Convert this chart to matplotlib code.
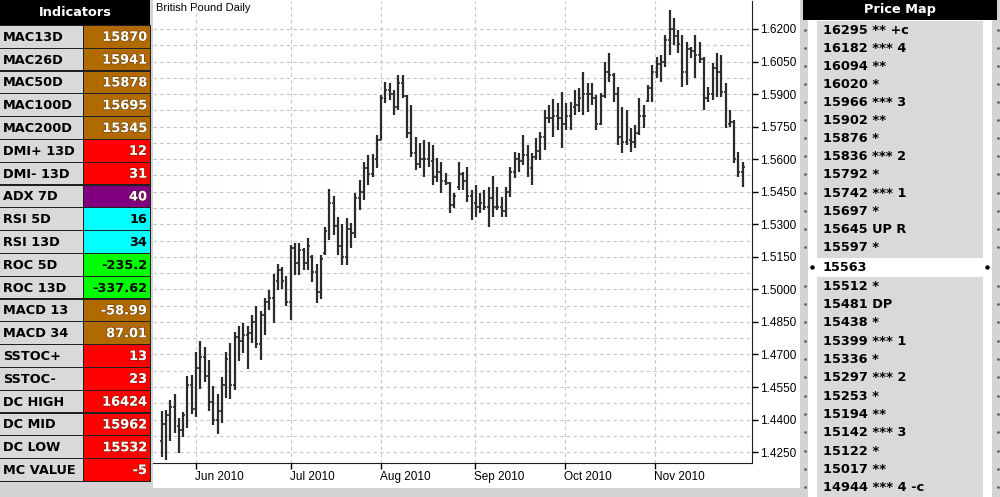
import matplotlib
matplotlib.use('Agg')
import matplotlib.pyplot as plt
from matplotlib.patches import Rectangle
import matplotlib.patheffects as pe
import numpy as np

# ---------------- data ----------------
opens = [1.4300, 1.4380, 1.4420, 1.4460, 1.4370, 1.4350, 1.4420, 1.4560, 1.4450, 1.4640,
         1.4690, 1.4600, 1.4480, 1.4400, 1.4440, 1.4560, 1.4680, 1.4560, 1.4780, 1.4760,
         1.4790, 1.4800, 1.4850, 1.4750, 1.4880, 1.4940, 1.4960, 1.5040, 1.5090, 1.5040,
         1.4940, 1.5190, 1.5120, 1.5180, 1.5120, 1.5150, 1.5080, 1.4990, 1.5170, 1.5270,
         1.5400, 1.5290, 1.5200, 1.5150, 1.5280, 1.5260, 1.5420, 1.5450, 1.5560, 1.5530,
         1.5600, 1.5690, 1.5880, 1.5920, 1.5900, 1.5840, 1.5950, 1.5890, 1.5720, 1.5630,
         1.5580, 1.5600, 1.5600, 1.5590, 1.5520, 1.5540, 1.5500, 1.5490, 1.5390, 1.5470,
         1.5530, 1.5500, 1.5430, 1.5400, 1.5380, 1.5400, 1.5380, 1.5420, 1.5380, 1.5380,
         1.5360, 1.5450, 1.5540, 1.5600, 1.5590, 1.5620, 1.5560, 1.5610, 1.5640, 1.5700,
         1.5790, 1.5790, 1.5800, 1.5790, 1.5760, 1.5800, 1.5840, 1.5850, 1.5880, 1.5900,
         1.5900, 1.5880, 1.5760, 1.5890, 1.6000, 1.5990, 1.5900, 1.5700, 1.5680, 1.5690,
         1.5680, 1.5720, 1.5800, 1.5870, 1.5930, 1.6000, 1.6040, 1.6050, 1.6150, 1.6200,
         1.6170, 1.6130, 1.6000, 1.6110, 1.6100, 1.6080, 1.6060, 1.5880, 1.5900, 1.6020,
         1.6000, 1.5910, 1.5760, 1.5770, 1.5600, 1.5540]
highs = [1.4440, 1.4445, 1.4491, 1.4518, 1.4408, 1.4436, 1.4601, 1.4606, 1.4712, 1.4763,
         1.4735, 1.4675, 1.4555, 1.4518, 1.4597, 1.4712, 1.4753, 1.4804, 1.4832, 1.4846,
         1.4832, 1.4882, 1.4924, 1.4901, 1.4961, 1.4998, 1.5071, 1.5117, 1.5104, 1.5062,
         1.5205, 1.5214, 1.5214, 1.5191, 1.5237, 1.5159, 1.5117, 1.5159, 1.5288, 1.5463,
         1.5431, 1.5334, 1.5302, 1.5330, 1.5306, 1.5445, 1.5505, 1.5587, 1.5620, 1.5624,
         1.5712, 1.5896, 1.5956, 1.5952, 1.5919, 1.5988, 1.5988, 1.5896, 1.5850, 1.5703,
         1.5675, 1.5689, 1.5680, 1.5666, 1.5606, 1.5587, 1.5537, 1.5495, 1.5445, 1.5587,
         1.5541, 1.5564, 1.5458, 1.5481, 1.5445, 1.5458, 1.5472, 1.5523, 1.5472, 1.5426,
         1.5472, 1.5564, 1.5634, 1.5629, 1.5712, 1.5666, 1.5629, 1.5698, 1.5726, 1.5827,
         1.5850, 1.5878, 1.5859, 1.5910, 1.5859, 1.5864, 1.5919, 1.5929, 1.6002, 1.5952,
         1.5952, 1.5896, 1.5906, 1.6048, 1.6090, 1.5998, 1.5933, 1.5841, 1.5827, 1.5744,
         1.5758, 1.5882, 1.5850, 1.5942, 1.6035, 1.6071, 1.6081, 1.6173, 1.6288, 1.6251,
         1.6196, 1.6173, 1.6140, 1.6117, 1.6173, 1.6140, 1.6071, 1.5933, 1.6044, 1.6090,
         1.6081, 1.5952, 1.5827, 1.5781, 1.5634, 1.5587]
lows = [1.4228, 1.4214, 1.4302, 1.4339, 1.4247, 1.4320, 1.4362, 1.4426, 1.4413, 1.4541,
        1.4574, 1.4440, 1.4376, 1.4334, 1.4385, 1.4500, 1.4495, 1.4537, 1.4670, 1.4707,
        1.4634, 1.4753, 1.4730, 1.4675, 1.4790, 1.4906, 1.4846, 1.4998, 1.5002, 1.4924,
        1.4859, 1.5067, 1.5067, 1.5090, 1.5090, 1.5035, 1.4938, 1.4956, 1.5159, 1.5228,
        1.5251, 1.5159, 1.5113, 1.5113, 1.5191, 1.5237, 1.5366, 1.5412, 1.5481, 1.5518,
        1.5560, 1.5689, 1.5859, 1.5873, 1.5804, 1.5827, 1.5882, 1.5698, 1.5611, 1.5551,
        1.5560, 1.5518, 1.5564, 1.5481, 1.5495, 1.5445, 1.5481, 1.5352, 1.5376, 1.5458,
        1.5458, 1.5403, 1.5320, 1.5334, 1.5352, 1.5366, 1.5288, 1.5334, 1.5366, 1.5334,
        1.5334, 1.5426, 1.5514, 1.5541, 1.5574, 1.5518, 1.5481, 1.5597, 1.5597, 1.5643,
        1.5767, 1.5703, 1.5735, 1.5652, 1.5735, 1.5735, 1.5804, 1.5818, 1.5804, 1.5818,
        1.5850, 1.5735, 1.5758, 1.5882, 1.5956, 1.5864, 1.5666, 1.5629, 1.5666, 1.5634,
        1.5652, 1.5712, 1.5744, 1.5864, 1.5864, 1.5975, 1.5956, 1.6025, 1.6081, 1.6127,
        1.6090, 1.5933, 1.5942, 1.6067, 1.5975, 1.6044, 1.5827, 1.5864, 1.5873, 1.5887,
        1.5887, 1.5744, 1.5749, 1.5583, 1.5518, 1.5472]
closes = [1.4380, 1.4420, 1.4460, 1.4370, 1.4350, 1.4420, 1.4560, 1.4450, 1.4640, 1.4690,
          1.4600, 1.4480, 1.4400, 1.4440, 1.4560, 1.4680, 1.4560, 1.4780, 1.4760, 1.4790,
          1.4800, 1.4850, 1.4750, 1.4880, 1.4940, 1.4960, 1.5040, 1.5090, 1.5040, 1.4940,
          1.5190, 1.5120, 1.5180, 1.5120, 1.5200, 1.5080, 1.4990, 1.5140, 1.5270, 1.5400,
          1.5290, 1.5200, 1.5150, 1.5280, 1.5260, 1.5420, 1.5450, 1.5560, 1.5530, 1.5600,
          1.5690, 1.5880, 1.5920, 1.5900, 1.5840, 1.5950, 1.5890, 1.5720, 1.5630, 1.5580,
          1.5600, 1.5600, 1.5590, 1.5520, 1.5540, 1.5500, 1.5490, 1.5390, 1.5430, 1.5530,
          1.5500, 1.5430, 1.5400, 1.5380, 1.5400, 1.5380, 1.5420, 1.5380, 1.5380, 1.5360,
          1.5450, 1.5540, 1.5600, 1.5590, 1.5620, 1.5560, 1.5610, 1.5640, 1.5700, 1.5790,
          1.5790, 1.5800, 1.5790, 1.5760, 1.5800, 1.5840, 1.5850, 1.5880, 1.5900, 1.5900,
          1.5880, 1.5760, 1.5890, 1.6000, 1.5990, 1.5900, 1.5700, 1.5680, 1.5690, 1.5680,
          1.5720, 1.5800, 1.5800, 1.5930, 1.6000, 1.6040, 1.6050, 1.6150, 1.6200, 1.6170,
          1.6130, 1.6000, 1.6110, 1.6100, 1.6080, 1.6060, 1.5880, 1.5900, 1.6020, 1.6000,
          1.5910, 1.5760, 1.5770, 1.5600, 1.5540, 1.5563]

month_labels = ['Jun 2010', 'Jul 2010', 'Aug 2010', 'Sep 2010', 'Oct 2010', 'Nov 2010']
month_pos = [8.0, 30.0, 51.0, 72.8, 93.7, 114.6]   # trading-day index of month start
price_ticks = [1.4250, 1.4400, 1.4550, 1.4700, 1.4850, 1.5000, 1.5150,
               1.5300, 1.5450, 1.5600, 1.5750, 1.5900, 1.6050, 1.6200]
chart_title = 'British Pound Daily'

ind_labels = ['MAC13D', 'MAC26D', 'MAC50D', 'MAC100D', 'MAC200D', 'DMI+ 13D', 'DMI- 13D',
              'ADX 7D', 'RSI 5D', 'RSI 13D', 'ROC 5D', 'ROC 13D', 'MACD 13', 'MACD 34',
              'SSTOC+', 'SSTOC-', 'DC HIGH', 'DC MID', 'DC LOW', 'MC VALUE']
ind_values = ['15870', '15941', '15878', '15695', '15345', '12', '31', '40', '16', '34',
              '-235.2', '-337.62', '-58.99', '87.01', '13', '23', '16424', '15962', '15532', '-5']
ind_kinds = ['ma', 'ma', 'ma', 'ma', 'ma', 'red', 'red', 'purple', 'cyan', 'cyan',
             'green', 'green', 'ma', 'ma', 'red', 'red', 'red', 'red', 'red', 'red']

pm_above_levels = ['16295', '16182', '16094', '16020', '15966', '15902', '15876',
                   '15836', '15792', '15742', '15697', '15645', '15597']
pm_above_notes = ['** +c', '*** 4', '**', '*', '*** 3', '**', '*',
                  '*** 2', '*', '*** 1', '*', 'UP R', '*']
pm_current = '15563'
pm_below_levels = ['15512', '15481', '15438', '15399', '15336', '15297',
                   '15253', '15194', '15142', '15122', '15017', '14944']
pm_below_notes = ['*', 'DP', '*', '*** 1', '*', '*** 2',
                  '*', '**', '*** 3', '*', '**', '*** 4 -c']

# ---------------- styles ----------------
kind_bg = {'ma': '#B06A00', 'red': '#FF0000', 'purple': '#800080',
           'cyan': '#00FFFF', 'green': '#00FF00'}
kind_fg = {'ma': 'white', 'red': 'white', 'purple': 'white',
           'cyan': 'black', 'green': 'black'}
PANEL_GRAY = '#D4D4D4'
CELL_GRAY = '#D9D9D9'
BOLD = dict(family='DejaVu Sans', fontweight='bold', fontsize=9.3)

W, H = 1000, 497
fig = plt.figure(figsize=(W / 100, H / 100), dpi=100)
fig.patch.set_facecolor(PANEL_GRAY)

bg = fig.add_axes([0, 0, 1, 1])
bg.set_xlim(0, W)
bg.set_ylim(H, 0)
bg.axis('off')
bg.set_zorder(0)

# chart white panel
bg.add_patch(Rectangle((153, 0), 647, 488, color='white', lw=0))
bg.text(156, 8, chart_title, fontsize=8, family='Liberation Sans', va='center', ha='left')

# ---------------- Indicators panel ----------------
bg.add_patch(Rectangle((0, 0), 150, 25, color='black', lw=0))
bg.text(75, 13, 'Indicators', color='white', ha='center', va='center', **BOLD)
row_top0, pitch = 26.0, 22.8
bg.add_patch(Rectangle((0, row_top0 - 1), 151, pitch * len(ind_labels) + 1,
                       color='#202020', lw=0))
for i, (lab, val, kind) in enumerate(zip(ind_labels, ind_values, ind_kinds)):
    top = row_top0 + i * pitch
    h = pitch - 1.2
    bg.add_patch(Rectangle((0, top), 82.5, h, color=CELL_GRAY, lw=0))
    bg.add_patch(Rectangle((84, top), 65.5, h, color=kind_bg[kind], lw=0))
    cy = top + h / 2 + 0.5
    bg.text(3, cy, lab, color='black', ha='left', va='center', **BOLD)
    t = bg.text(147, cy, val, color=kind_fg[kind], ha='right', va='center', **BOLD)
    if kind_fg[kind] == 'white':
        t.set_path_effects([pe.withStroke(linewidth=1.0, foreground='#40200080')])

# ---------------- Price Map panel ----------------
bg.add_patch(Rectangle((803, 0), 194, 20, color='black', lw=0))
bg.text(900, 10, 'Price Map', color='white', ha='center', va='center', **BOLD)
bg.add_patch(Rectangle((808, 20), 184, H - 20, color='white', lw=0))
cur_y = 30 + 18.06 * 12 + 20.6
bg.add_patch(Rectangle((817, 21), 166, cur_y - 9.5 - 21, color=CELL_GRAY, lw=0))
bg.add_patch(Rectangle((817, cur_y + 9.5), 166, H - cur_y - 9.5, color=CELL_GRAY, lw=0))

pm_rows = []
for i, (lv, nt) in enumerate(zip(pm_above_levels, pm_above_notes)):
    pm_rows.append((30 + 18.06 * i, lv + ' ' + nt, False))
pm_rows.append((cur_y, pm_current, True))
for k, (lv, nt) in enumerate(zip(pm_below_levels, pm_below_notes)):
    pm_rows.append((cur_y + 18.33 * (k + 1), lv + ' ' + nt, False))
for cy, txt, is_cur in pm_rows:
    if is_cur:
        bg.plot([812, 987], [cy, cy], 'o', color='black', ms=2.2)
    else:
        bg.plot([805, 997.5], [cy, cy], 's', color='#555555', ms=0.8)
    bg.text(823, cy + 0.5, txt, color='black', ha='left', va='center', **BOLD)

# ---------------- price chart ----------------
ax = fig.add_axes([153 / W, (H - 463) / H, 599 / W, 462 / H])
ax.set_zorder(1)
ax.patch.set_alpha(0)
x = np.arange(len(highs))
bar_col = '#2B2B2B'
ax.vlines(x, lows, highs, color=bar_col, lw=1.6, zorder=3)
ax.hlines(opens, x - 0.45, x, color=bar_col, lw=1.2, zorder=3)
ax.hlines(closes, x, x + 0.45, color=bar_col, lw=1.2, zorder=3)
ax.set_xlim(-2.0, 137.15)
ax.set_ylim(1.4200, 1.6329)

ax.set_yticks(price_ticks)
ax.set_yticklabels(['%.4f' % p for p in price_ticks])
ax.set_yticks([p + 0.0075 for p in price_ticks[:-1]], minor=True)
ax.yaxis.tick_right()
ax.tick_params(axis='y', which='major', direction='out', length=4, width=1,
               labelsize=8.5, pad=2, colors='black')
ax.tick_params(axis='y', which='minor', length=0)
for lbl in ax.get_yticklabels():
    lbl.set_family('Liberation Sans')

ax.set_xticks(month_pos)
ax.set_xticklabels(month_labels, ha='left', family='Liberation Sans', fontsize=8.5)
ax.tick_params(axis='x', direction='out', length=4, width=1, pad=2)
for lbl in ax.get_xticklabels():
    lbl.set_transform(lbl.get_transform() + matplotlib.transforms.ScaledTranslation(-1 / 100, 0, fig.dpi_scale_trans))

grid_kw = dict(color='#C4C4C4', lw=0.8, ls=(0, (3, 3)))
ax.yaxis.grid(True, which='both', **grid_kw)
ax.xaxis.grid(True, which='major', **grid_kw)
ax.set_axisbelow(True)
for s in ['left', 'top']:
    ax.spines[s].set_visible(False)
ax.spines['right'].set_color('#202020')
ax.spines['bottom'].set_color('#202020')

fig.savefig('out.png', dpi=100, facecolor=fig.get_facecolor())
